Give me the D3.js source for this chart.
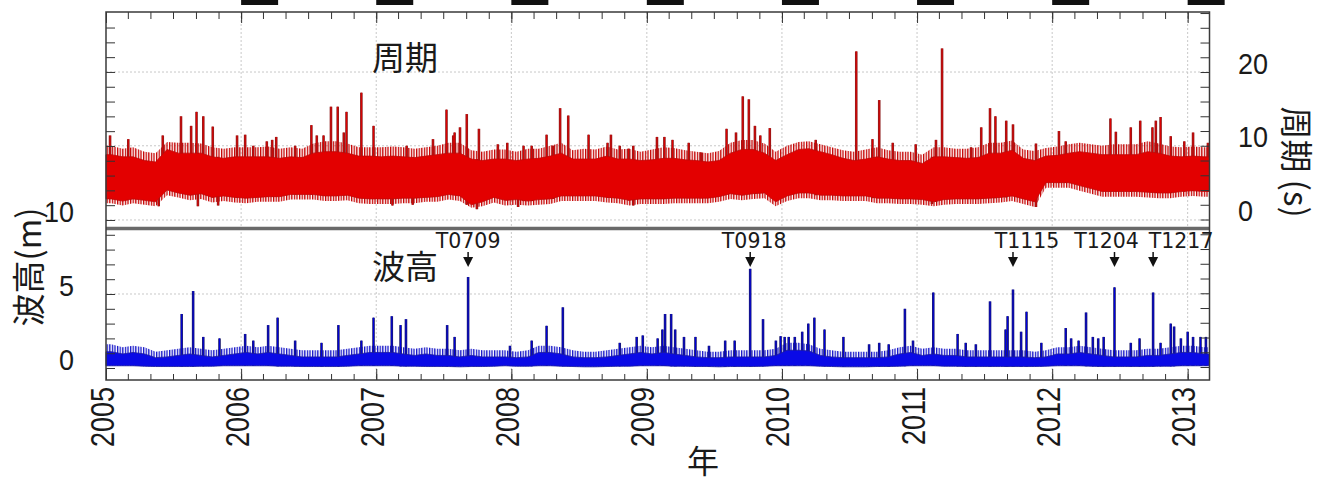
<!DOCTYPE html>
<html><head><meta charset="utf-8">
<script src="https://cdn.jsdelivr.net/npm/d3@7"></script>
<style>body{margin:0;background:#fff}svg{display:block}</style>
</head><body><svg id="c" width="1326" height="482"></svg>
<script>
// ---------------- DATA ----------------
// Monthly dense-core envelope of the wave period series (s), Jan 2005 .. Feb 2013
const periodHigh = [
 8.8,8.5,8.5,8.0,7.8,9.5,9.0,9.0,9.0,8.5,8.3,8.5,
 8.5,8.5,8.5,8.3,8.5,8.4,9.0,9.2,9.2,9.0,8.6,8.6,
 8.5,8.6,8.5,8.4,8.6,8.8,9.0,9.0,8.2,8.0,8.2,8.2,
 8.0,8.2,8.3,8.6,9.0,8.2,8.2,8.2,8.6,8.2,8.2,8.0,
 8.1,8.3,8.3,8.1,8.0,7.8,8.0,9.0,9.5,9.5,9.0,8.0,
 8.8,9.5,9.6,9.2,8.8,8.3,8.0,8.2,8.5,8.2,8.0,8.0,
 7.6,8.5,8.5,8.4,8.3,8.4,9.0,9.0,9.4,8.3,8.0,8.6,
 8.7,9.0,9.2,9.0,8.8,8.8,8.8,8.8,9.2,9.0,8.6,8.5,
 8.6,8.5];
const periodLow = [
 2.8,2.5,2.8,2.6,2.4,4.0,3.6,3.3,3.5,3.0,3.2,3.0,
 2.9,3.0,3.1,3.1,3.4,3.4,3.4,3.2,3.2,3.3,2.9,2.8,
 2.8,2.8,2.9,2.9,3.0,3.1,3.4,3.2,2.0,2.4,3.0,2.6,
 2.7,2.5,2.7,2.8,3.2,3.2,3.2,3.2,3.0,2.9,2.6,2.8,
 2.8,2.8,2.9,2.9,2.9,2.9,3.1,3.5,3.3,3.5,3.6,2.4,
 3.2,3.6,3.6,3.3,3.3,3.2,3.2,3.2,2.9,2.9,2.8,2.8,
 2.7,2.4,2.7,2.8,2.8,2.8,2.9,3.0,3.2,2.8,2.4,5.0,
 5.0,5.0,4.6,4.2,3.8,3.8,3.8,3.8,3.7,3.6,3.6,3.8,
 3.9,3.8];
// Monthly outer (jagged fringe) envelope of the period series (s)
const periodFringeHigh = [
 10.0,9.6,9.8,9.2,9.0,10.5,10.4,10.4,10.3,9.8,9.6,9.8,
 9.8,9.8,9.9,9.6,9.8,9.6,10.3,10.6,10.6,10.3,9.8,9.8,
 9.8,9.9,9.8,9.6,9.8,10.0,10.4,10.4,9.4,9.2,9.5,9.5,
 9.2,9.6,9.6,10.0,10.4,9.4,9.6,9.5,9.9,9.5,9.6,9.2,
 9.5,9.8,9.7,9.4,9.2,9.0,9.3,10.4,10.8,10.8,10.3,9.2,
 10.0,10.5,10.6,10.2,9.8,9.4,9.2,9.5,9.8,9.4,9.2,9.2,
 8.8,9.8,9.8,9.6,9.6,9.8,10.4,10.4,10.7,9.5,9.3,9.7,
 9.9,10.2,10.4,10.2,10.0,10.2,10.2,10.2,10.6,10.3,9.9,9.8,
 9.9,9.8];
const periodFringeLow = [
 2.2,1.9,2.2,2.0,1.8,3.3,3.0,2.6,2.8,2.3,2.5,2.3,
 2.2,2.4,2.4,2.4,2.7,2.7,2.7,2.5,2.5,2.6,2.2,2.1,
 2.1,2.1,2.2,2.2,2.4,2.4,2.7,2.5,1.6,1.8,2.3,1.9,
 2.0,1.9,2.0,2.1,2.5,2.5,2.5,2.5,2.3,2.2,1.9,2.1,
 2.1,2.1,2.2,2.2,2.2,2.2,2.4,2.8,2.6,2.8,2.9,1.8,
 2.5,2.9,2.9,2.6,2.6,2.5,2.5,2.5,2.2,2.2,2.1,2.1,
 2.0,1.8,2.0,2.1,2.1,2.1,2.2,2.3,2.5,2.1,1.7,4.3,
 4.3,4.3,3.9,3.5,3.1,3.1,3.1,3.1,3.0,2.9,2.9,3.1,
 3.2,3.1];
// Isolated period peaks (decimal year, s)
const periodPeakYears = [2005.03,2005.165,2005.42,2005.555,2005.63,2005.67,2005.72,2005.79,2005.97,
 2006.03,2006.09,2006.19,2006.23,2006.26,2006.40,2006.52,2006.56,2006.61,2006.665,2006.715,2006.76,2006.78,2006.89,2006.98,
 2007.225,2007.42,2007.52,2007.57,2007.58,2007.62,2007.67,2007.76,2007.90,2007.97,
 2008.09,2008.15,2008.26,2008.31,2008.36,2008.42,2008.57,2008.71,2008.735,2008.80,2008.865,2008.90,
 2009.075,2009.13,2009.19,2009.31,2009.40,2009.59,2009.66,2009.71,2009.755,2009.80,2009.84,2009.91,
 2010.25,2010.55,2010.67,2010.72,2010.82,2010.99,
 2011.14,2011.185,2011.40,2011.475,2011.54,2011.58,2011.66,2011.71,2011.88,
 2012.05,2012.10,2012.43,2012.47,2012.58,2012.65,2012.74,2012.765,2012.80,2012.875,2012.975,
 2013.04,2013.15];
const periodPeakValues = [11.4,10.9,11.4,14.0,12.7,14.6,14.0,12.6,11.4,
 11.5,10.0,10.6,10.8,11.2,10.0,12.8,11.4,11.4,15.3,15.3,11.8,14.6,17.2,12.7,
 10.0,10.9,14.9,11.4,11.8,12.5,14.3,12.3,10.2,10.4,
 10.0,10.0,11.5,10.0,15.1,14.1,11.5,10.4,11.5,10.0,9.6,10.0,
 11.2,11.2,10.8,10.4,9.1,12.3,11.8,16.7,16.3,12.7,11.4,12.4,
 10.8,22.8,10.9,16.2,10.4,10.2,
 10.8,23.2,9.8,12.5,15.1,14.0,13.4,12.9,10.3,
 12.0,10.6,13.7,11.9,12.5,13.4,12.5,13.4,13.9,11.3,10.6,
 11.8,10.4];
// Isolated period dips (decimal year, s)
const periodDipYears = [2005.39,2005.68,2005.83,2007.12,2007.27,2007.745,2008.05,2008.90,2011.11,2011.88];
const periodDipValues = [1.8,1.8,1.9,1.9,2.0,1.4,1.7,1.9,2.1,1.7];

// Monthly dense-core envelope of the wave height series (m)
const heightHigh = [
 1.1,0.95,1.05,0.95,0.7,0.75,0.85,0.95,0.85,0.75,0.85,0.95,
 1.05,0.95,1.05,0.95,0.85,0.75,0.75,0.75,0.75,0.85,0.95,1.05,
 1.05,1.05,0.95,0.85,0.95,0.85,0.85,0.75,0.85,0.75,0.75,0.75,
 0.7,0.75,1.05,1.05,0.95,0.75,0.7,0.7,0.75,0.85,0.95,1.05,
 0.95,1.05,0.95,0.85,0.75,0.7,0.7,0.75,0.75,0.75,0.75,0.85,
 1.2,1.2,1.15,0.85,0.75,0.7,0.7,0.7,0.7,0.75,0.95,1.05,
 0.85,0.95,0.85,0.85,0.75,0.75,0.75,0.75,0.75,0.75,0.7,0.75,
 0.95,0.95,1.05,0.95,0.85,0.75,0.75,0.75,0.85,0.85,0.95,1.05,
 1.05,0.95];
const heightLow = [
 0.15,0.15,0.15,0.12,0.1,0.1,0.1,0.1,0.12,0.12,0.15,0.15,
 0.15,0.15,0.15,0.12,0.12,0.1,0.1,0.1,0.1,0.12,0.15,0.15,
 0.15,0.15,0.12,0.12,0.1,0.1,0.1,0.08,0.1,0.1,0.12,0.15,
 0.12,0.12,0.15,0.15,0.12,0.1,0.08,0.08,0.1,0.12,0.12,0.15,
 0.15,0.15,0.12,0.12,0.1,0.1,0.08,0.1,0.1,0.1,0.12,0.15,
 0.15,0.15,0.15,0.12,0.1,0.08,0.08,0.08,0.1,0.1,0.12,0.15,
 0.15,0.15,0.12,0.12,0.1,0.1,0.1,0.1,0.1,0.1,0.1,0.12,
 0.15,0.15,0.15,0.12,0.1,0.1,0.1,0.1,0.1,0.12,0.12,0.15,
 0.15,0.15];
// Monthly outer (jagged fringe) top of the wave height series (m)
const heightFringeHigh = [
 1.6,1.4,1.5,1.4,1.1,1.2,1.3,1.4,1.3,1.2,1.3,1.4,
 1.5,1.4,1.5,1.4,1.3,1.2,1.2,1.2,1.2,1.3,1.4,1.5,
 1.5,1.5,1.4,1.3,1.4,1.3,1.3,1.2,1.3,1.2,1.2,1.2,
 1.1,1.2,1.5,1.5,1.4,1.2,1.1,1.1,1.2,1.3,1.4,1.5,
 1.4,1.5,1.4,1.3,1.2,1.1,1.1,1.2,1.2,1.2,1.2,1.3,
 1.7,1.7,1.6,1.3,1.2,1.1,1.1,1.1,1.1,1.2,1.4,1.5,
 1.3,1.4,1.3,1.3,1.2,1.2,1.2,1.2,1.2,1.2,1.1,1.2,
 1.4,1.4,1.5,1.4,1.3,1.2,1.2,1.2,1.3,1.3,1.4,1.5,
 1.5,1.4];
// Isolated wave height peaks (decimal year, m)
const heightPeakYears = [2005.56,2005.645,2005.72,2005.84,
 2006.03,2006.09,2006.20,2006.27,2006.40,2006.595,2006.72,2006.89,2006.98,
 2007.115,2007.18,2007.22,2007.525,2007.58,2007.68,2007.99,
 2008.15,2008.26,2008.38,2008.80,2008.925,2008.97,
 2009.08,2009.115,2009.135,2009.18,2009.21,2009.275,2009.36,2009.46,2009.58,2009.65,2009.765,2009.86,2009.955,2009.99,
 2010.02,2010.05,2010.095,2010.15,2010.195,2010.24,2010.315,2010.455,2010.645,2010.72,2010.79,2010.91,2010.97,
 2011.12,2011.30,2011.36,2011.435,2011.54,2011.655,2011.67,2011.71,2011.77,2011.81,2011.92,
 2012.10,2012.14,2012.195,2012.25,2012.30,2012.34,2012.38,2012.46,2012.58,2012.645,2012.745,2012.80,2012.875,2012.90,2012.95,
 2013.0,2013.04,2013.095,2013.135];
const heightPeakValues = [3.65,5.2,2.1,2.0,
 2.3,1.85,2.9,3.4,1.85,1.7,2.9,1.85,3.4,
 3.5,2.9,3.3,2.9,2.1,6.15,1.5,
 1.85,2.85,4.1,1.7,2.1,2.2,
 2.0,2.6,3.65,3.65,2.6,2.1,2.1,1.5,1.85,1.85,6.7,3.3,1.85,2.15,
 2.1,2.1,2.1,2.45,3.0,3.4,2.6,2.1,1.6,1.7,1.6,4.0,1.85,
 5.1,2.3,1.7,1.6,4.5,2.6,3.5,5.3,2.45,3.8,1.7,
 2.7,2.0,1.85,3.75,2.1,2.0,2.1,5.45,1.7,2.0,5.1,1.7,3.0,2.8,2.0,
 2.45,2.1,2.1,2.1];

// Typhoon annotations
const typhoonNames = ["T0709","T0918","T1115","T1204","T1217"];
const typhoonYears = [2007.68,2009.765,2011.71,2012.46,2012.745];

// Axis tick labels
const yearTicks = [2005,2006,2007,2008,2009,2010,2011,2012,2013];
const heightTickLabels = [0,5,10];
const periodTickLabels = [0,10,20];

// ---------------- DRAWING ----------------
const svg = d3.select("#c");
const L = 106, R = 1209.5, T = 12, B = 380;
const tStart = new Date(2005,0,1), tEnd = new Date(2013,2,1);
const x = d3.scaleTime().domain([tStart, tEnd]).range([L, R]);
const yH = d3.scaleLinear().domain([-0.81, 24.05]).range([B, T]);
const yP = d3.scaleLinear().domain([-21.76, 28.14]).range([B, T]);

function decDate(yr){
  const y = Math.floor(yr), a = new Date(y,0,1), b = new Date(y+1,0,1);
  return new Date(+a + (yr - y) * (b - a));
}
const months = d3.timeMonth.range(tStart, tEnd);
function monthIdx(d){ return Math.max(0, Math.min(months.length-1, d3.timeMonth.count(tStart, d))); }
function bandPoints(lo, hi){
  const pts = [{d: tStart, lo: lo[0], hi: hi[0]}];
  months.forEach((m,i) => pts.push({d: d3.timeDay.offset(m,14), lo: lo[i], hi: hi[i]}));
  pts.push({d: tEnd, lo: lo[lo.length-1], hi: hi[hi.length-1]});
  return pts;
}

// stripe patterns for the jagged fringe of the dense series
const defs = svg.append("defs");
[["stripeR","#c40000"],["stripeB","#1414c8"]].forEach(([id,c]) => {
  const p = defs.append("pattern").attr("id", id).attr("patternUnits", "userSpaceOnUse")
    .attr("width", 2.6).attr("height", 10);
  p.append("rect").attr("width", 1.3).attr("height", 10).attr("fill", c);
});

// top cropped marks (bottoms of labels from a figure above)
svg.append("g").selectAll("rect").data(yearTicks.slice(1)).join("rect")
  .attr("x", d => x(new Date(d,0,1))).attr("y", 0).attr("width", 37).attr("height", 5).attr("fill", "#111");

// grid
const grid = svg.append("g").attr("stroke", "#c8c8c8").attr("stroke-width", 1).attr("stroke-dasharray", "2,2");
grid.selectAll(".v").data(yearTicks.slice(1)).join("line")
  .attr("x1", d => x(new Date(d,0,1))).attr("x2", d => x(new Date(d,0,1))).attr("y1", T).attr("y2", B);
grid.selectAll(".hp").data([10,20]).join("line")
  .attr("x1", L).attr("x2", R).attr("y1", d => yP(d)).attr("y2", d => yP(d));
grid.selectAll(".hh").data([5,10]).join("line")
  .attr("x1", L).attr("x2", R).attr("y1", d => yH(d)).attr("y2", d => yH(d));

// ---- period series (red)
const gP = svg.append("g");
const pPeaks = periodPeakYears.map((yv,i) => ({d: decDate(yv), v: periodPeakValues[i]}));
const pDips = periodDipYears.map((yv,i) => ({d: decDate(yv), v: periodDipValues[i]}));
gP.append("path").datum(bandPoints(periodFringeLow, periodFringeHigh))
  .attr("d", d3.area().x(d => x(d.d)).y0(d => yP(d.lo)).y1(d => yP(d.hi)))
  .attr("fill", "url(#stripeR)");
[["#8e1d1d",2.6],["#e00000",1]].forEach(([c,w]) => {
  gP.append("g").selectAll("line").data(pPeaks).join("line")
    .attr("x1", d => x(d.d)).attr("x2", d => x(d.d))
    .attr("y1", d => yP(periodLow[monthIdx(d.d)])).attr("y2", d => yP(d.v))
    .attr("stroke", c).attr("stroke-width", w);
  gP.append("g").selectAll("line").data(pDips).join("line")
    .attr("x1", d => x(d.d)).attr("x2", d => x(d.d))
    .attr("y1", d => yP(periodHigh[monthIdx(d.d)])).attr("y2", d => yP(d.v))
    .attr("stroke", c).attr("stroke-width", w);
});
gP.append("path").datum(bandPoints(periodLow, periodHigh))
  .attr("d", d3.area().x(d => x(d.d)).y0(d => yP(d.lo)).y1(d => yP(d.hi)))
  .attr("fill", "#e30000").attr("stroke", "#c00808").attr("stroke-width", 0.8);

// ---- height series (blue)
const gH = svg.append("g");
const hPeaks = heightPeakYears.map((yv,i) => ({d: decDate(yv), v: heightPeakValues[i]}));
gH.append("path").datum(bandPoints(heightLow, heightFringeHigh))
  .attr("d", d3.area().x(d => x(d.d)).y0(d => yH(d.lo)).y1(d => yH(d.hi)))
  .attr("fill", "url(#stripeB)");
[["#1b1b6e",2.6],["#0000e0",1]].forEach(([c,w]) => {
  gH.append("g").selectAll("line").data(hPeaks).join("line")
    .attr("x1", d => x(d.d)).attr("x2", d => x(d.d))
    .attr("y1", d => yH(heightLow[monthIdx(d.d)])).attr("y2", d => yH(d.v))
    .attr("stroke", c).attr("stroke-width", w);
});
gH.append("path").datum(bandPoints(heightLow, heightHigh))
  .attr("d", d3.area().x(d => x(d.d)).y0(d => yH(d.lo)).y1(d => yH(d.hi)))
  .attr("fill", "#0a0ae6").attr("stroke", "#1a1aa0").attr("stroke-width", 0.8);

// separator
svg.append("line").attr("x1", L).attr("x2", R).attr("y1", 228.5).attr("y2", 228.5)
  .attr("stroke", "#6a6a6a").attr("stroke-width", 3.5);

// axes (ticks inward)
function styleAxis(g){ g.select(".domain").remove(); g.selectAll("line").attr("stroke", "#333"); g.selectAll("text").remove(); }
svg.append("g").attr("transform", `translate(0,${B})`)
  .call(d3.axisBottom(x).tickValues(d3.timeMonth.every(2).range(tStart, tEnd)).tickSize(-6)).call(styleAxis);
svg.append("g").attr("transform", `translate(0,${B})`)
  .call(d3.axisBottom(x).tickValues(yearTicks.map(y => new Date(y,0,1))).tickSize(-11)).call(styleAxis);
svg.append("g").attr("transform", `translate(0,${T})`)
  .call(d3.axisTop(x).tickValues(d3.timeMonth.every(2).range(tStart, tEnd)).tickSize(-7)).call(styleAxis);
svg.append("g").attr("transform", `translate(0,${T})`)
  .call(d3.axisTop(x).tickValues(yearTicks.map(y => new Date(y,0,1))).tickSize(-11)).call(styleAxis);
svg.append("g").attr("transform", `translate(${L},0)`)
  .call(d3.axisLeft(yH).tickValues(d3.range(0,24)).tickSize(-9)).call(styleAxis);
svg.append("g").attr("transform", `translate(${R},0)`)
  .call(d3.axisRight(yP).tickValues(d3.range(-20,29,2)).tickSize(-9)).call(styleAxis);

// frame
svg.append("rect").attr("x", L).attr("y", T).attr("width", R-L).attr("height", B-T)
  .attr("fill", "none").attr("stroke", "#3a3a3a").attr("stroke-width", 1.5);

// tick labels
const numFont = "'Liberation Sans', Arial, sans-serif";
svg.append("g").selectAll("text").data(heightTickLabels).join("text")
  .attr("transform", d => `translate(74,${yH(d) - 9 + 10.6}) scale(1,1.1)`)
  .attr("text-anchor", "end").attr("font-family", numFont).attr("font-size", 27).attr("fill", "#1a1a1a")
  .text(d => d);
svg.append("g").selectAll("text").data(periodTickLabels).join("text")
  .attr("transform", d => `translate(1238,${yP(d) - 9 + 10.6}) scale(1,1.1)`)
  .attr("text-anchor", "start").attr("font-family", numFont).attr("font-size", 27).attr("fill", "#1a1a1a")
  .text(d => d);
svg.append("g").selectAll("text").data(yearTicks).join("text")
  .attr("transform", d => `translate(${x(new Date(d,0,1))},387) rotate(-90) scale(1,1.25)`)
  .attr("y", 6).attr("text-anchor", "end").attr("font-family", numFont).attr("font-size", 27).attr("fill", "#1a1a1a")
  .text(d => d);

// titles
const cjk = "'Noto Sans CJK JP', sans-serif";
svg.append("text").attr("x", 703).attr("y", 473).attr("text-anchor", "middle")
  .attr("font-family", cjk).attr("font-size", 32).attr("fill", "#1a1a1a").text("年");
svg.append("text").attr("transform", "translate(27,267) rotate(-90)").attr("text-anchor", "middle")
  .attr("dominant-baseline", "central").attr("font-family", cjk).attr("font-size", 33).attr("fill", "#1a1a1a").text("波高(m)");
svg.append("text").attr("transform", "translate(1298,162) rotate(90)").attr("text-anchor", "middle")
  .attr("dominant-baseline", "central").attr("font-family", cjk).attr("font-size", 33).attr("fill", "#1a1a1a").text("周期 (s)");
svg.append("text").attr("x", 372).attr("y", 70).attr("font-family", cjk).attr("font-size", 33).attr("fill", "#1a1a1a").text("周期");
svg.append("text").attr("x", 372).attr("y", 279).attr("font-family", cjk).attr("font-size", 33).attr("fill", "#1a1a1a").text("波高");

// typhoon annotations
const labelShift = [0, 4, 14, -8, 28];
const ann = svg.append("g");
typhoonNames.forEach((n,i) => {
  const ax = x(decDate(typhoonYears[i]));
  ann.append("text").attr("x", ax + labelShift[i]).attr("y", 248).attr("text-anchor", "middle")
    .attr("font-family", "'DejaVu Sans', sans-serif").attr("font-size", 20.5).attr("fill", "#1a1a1a").text(n);
  ann.append("line").attr("x1", ax).attr("x2", ax).attr("y1", 252).attr("y2", 259).attr("stroke", "#111").attr("stroke-width", 1.5);
  ann.append("path").attr("d", `M${ax-5},257 L${ax+5},257 L${ax},267 Z`).attr("fill", "#111");
});
</script>
</body></html>
